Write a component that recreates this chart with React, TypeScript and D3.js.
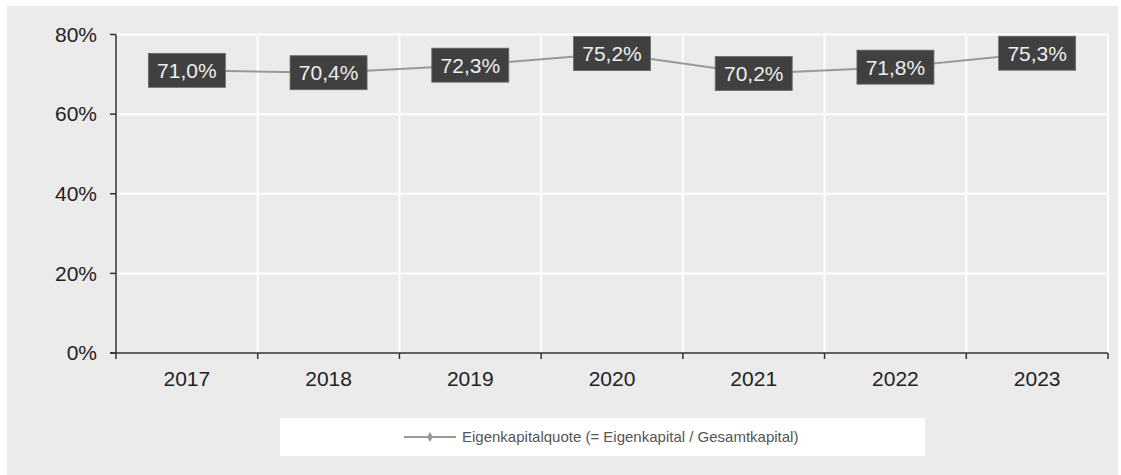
import React, { useEffect, useRef } from 'react';
import * as d3 from 'd3';

const years = ['2017', '2018', '2019', '2020', '2021', '2022', '2023'];
const ratios = [71.0, 70.4, 72.3, 75.2, 70.2, 71.8, 75.3];
const yTicks = [0, 20, 40, 60, 80];
const seriesName = 'Eigenkapitalquote (= Eigenkapital / Gesamtkapital)';

const App: React.FC = () => {
  const svgRef = useRef<SVGSVGElement>(null);

  useEffect(() => {
    if (!svgRef.current) return;
    const svg = d3.select(svgRef.current);
    svg.selectAll('*').remove();

    const width = 1121;
    const height = 475;
    const font = '"Liberation Sans", Arial, sans-serif';

    // panel background
    svg.append('rect')
      .attr('x', 7).attr('y', 6)
      .attr('width', width - 10).attr('height', height - 6)
      .attr('fill', '#ebebeb');

    const left = 116, right = 1108, top = 34.5, bottom = 353;

    const x = d3.scaleBand<string>().domain(years).range([left, right]);
    const y = d3.scaleLinear().domain([0, 80]).range([bottom, top]);

    // grid
    const g = svg.append('g');
    g.selectAll('line.hgrid')
      .data(yTicks.filter(t => t > 0))
      .join('line')
      .attr('x1', left).attr('x2', right)
      .attr('y1', d => y(d)).attr('y2', d => y(d))
      .attr('stroke', '#fff').attr('stroke-width', 2);

    const bounds = years.map(yr => x(yr)!).concat([right]);
    g.selectAll('line.vgrid')
      .data(bounds.slice(1))
      .join('line')
      .attr('x1', d => d).attr('x2', d => d)
      .attr('y1', top).attr('y2', bottom)
      .attr('stroke', '#fff').attr('stroke-width', 2);

    // axes
    const axisColor = '#333';
    g.append('line')
      .attr('x1', left).attr('x2', left).attr('y1', top).attr('y2', bottom + 6)
      .attr('stroke', axisColor).attr('stroke-width', 1.5);
    g.append('line')
      .attr('x1', left - 6).attr('x2', right).attr('y1', bottom).attr('y2', bottom)
      .attr('stroke', axisColor).attr('stroke-width', 1.5);

    g.selectAll('line.ytick')
      .data(yTicks)
      .join('line')
      .attr('x1', left - 6).attr('x2', left)
      .attr('y1', d => y(d)).attr('y2', d => y(d))
      .attr('stroke', axisColor).attr('stroke-width', 1.5);

    g.selectAll('text.ylab')
      .data(yTicks)
      .join('text')
      .attr('x', 97).attr('y', d => y(d))
      .attr('dy', '0.35em')
      .attr('text-anchor', 'end')
      .attr('font-family', font).attr('font-size', 21)
      .attr('fill', '#222')
      .text(d => `${d}%`);

    g.selectAll('line.xtick')
      .data(bounds.slice(1))
      .join('line')
      .attr('x1', d => d).attr('x2', d => d)
      .attr('y1', bottom).attr('y2', bottom + 6)
      .attr('stroke', axisColor).attr('stroke-width', 1.5);

    g.selectAll('text.xlab')
      .data(years)
      .join('text')
      .attr('x', d => x(d)! + x.bandwidth() / 2)
      .attr('y', 386)
      .attr('text-anchor', 'middle')
      .attr('font-family', font).attr('font-size', 21)
      .attr('fill', '#222')
      .text(d => d);

    // line
    const pts = years.map((yr, i) => ({ yr, v: ratios[i] }));
    const line = d3.line<{ yr: string; v: number }>()
      .x(d => x(d.yr)! + x.bandwidth() / 2)
      .y(d => y(d.v));
    g.append('path')
      .datum(pts)
      .attr('d', line)
      .attr('fill', 'none')
      .attr('stroke', '#999')
      .attr('stroke-width', 2);

    // labels
    const labels = g.selectAll('g.lbl')
      .data(pts)
      .join('g')
      .attr('transform', d => `translate(${x(d.yr)! + x.bandwidth() / 2},${y(d.v)})`);
    labels.append('rect')
      .attr('x', -38.5).attr('y', -17)
      .attr('width', 77).attr('height', 34)
      .attr('fill', '#404040')
      .attr('stroke', '#6a6a6a').attr('stroke-width', 0.8);
    labels.append('text')
      .attr('y', 0).attr('dy', '0.36em')
      .attr('text-anchor', 'middle')
      .attr('font-family', font).attr('font-size', 21)
      .attr('fill', '#eeeeee')
      .text(d => `${d.v.toFixed(1).replace('.', ',')}%`);

    // legend
    svg.append('rect')
      .attr('x', 280).attr('y', 418)
      .attr('width', 645).attr('height', 38)
      .attr('fill', '#fff');
    svg.append('line')
      .attr('x1', 404).attr('x2', 456).attr('y1', 437).attr('y2', 437)
      .attr('stroke', '#999').attr('stroke-width', 2);
    svg.append('path')
      .attr('d', d3.symbol().type(d3.symbolDiamond).size(30)())
      .attr('transform', 'translate(430,437)')
      .attr('fill', '#999');
    svg.append('text')
      .attr('x', 462).attr('y', 437).attr('dy', '0.35em')
      .attr('font-family', font).attr('font-size', 15)
      .attr('fill', '#555')
      .text(seriesName);
  }, []);

  return (
    <svg ref={svgRef} width={1121} height={475}
      style={{ position: 'absolute', left: 0, top: 0, display: 'block' }} />
  );
};

export default App;
